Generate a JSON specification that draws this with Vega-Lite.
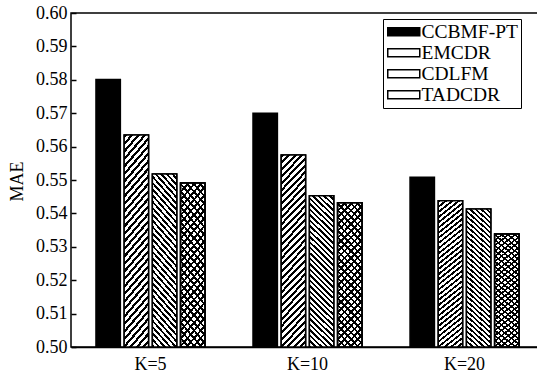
{
"$schema": "https://vega.github.io/schema/vega-lite/v6.json",
"width": 473, "height": 334,
"autosize": {"type": "none"},
"padding": {"left": 71, "top": 13, "right": 0, "bottom": 27},
"background": "#ffffff",
"config": {
 "view": {"stroke": "#000", "strokeWidth": 1.5},
 "font": "Liberation Serif",
 "axis": {"labelFont": "Liberation Serif", "titleFont": "Liberation Serif", "labelFontSize": 18, "titleFontSize": 18, "titleFontWeight": "normal", "labelColor": "#000", "titleColor": "#000", "domainColor": "#000", "tickColor": "#000", "domainWidth": 1.5, "tickWidth": 1.5, "grid": false}
},
"data": {"values": [
 {"K": "K=5", "method": "CCBMF-PT", "MAE": 0.5801},
 {"K": "K=5", "method": "EMCDR", "MAE": 0.5635},
 {"K": "K=5", "method": "CDLFM", "MAE": 0.5518},
 {"K": "K=5", "method": "TADCDR", "MAE": 0.5491},
 {"K": "K=10", "method": "CCBMF-PT", "MAE": 0.5700},
 {"K": "K=10", "method": "EMCDR", "MAE": 0.5575},
 {"K": "K=10", "method": "CDLFM", "MAE": 0.5453},
 {"K": "K=10", "method": "TADCDR", "MAE": 0.5432},
 {"K": "K=20", "method": "CCBMF-PT", "MAE": 0.5508},
 {"K": "K=20", "method": "EMCDR", "MAE": 0.5438},
 {"K": "K=20", "method": "CDLFM", "MAE": 0.5413},
 {"K": "K=20", "method": "TADCDR", "MAE": 0.5338}
]},
"encoding": {
 "x": {"field": "K", "type": "nominal", "sort": ["K=5", "K=10", "K=20"], "scale": {"paddingInner": 0.306, "paddingOuter": 0.159}, "axis": {"title": null, "labelAngle": 0, "ticks": false, "tickSize": 0, "labelPadding": 8}},
 "xOffset": {"field": "method", "type": "nominal", "sort": ["CCBMF-PT", "EMCDR", "CDLFM", "TADCDR"], "scale": {"domain": ["CCBMF-PT", "EMCDR", "CDLFM", "TADCDR"], "paddingInner": 0.135, "paddingOuter": 0}},
 "y": {"field": "MAE", "type": "quantitative", "scale": {"domain": [0.5, 0.6], "zero": false, "nice": false}, "axis": {"title": "MAE", "values": [0.5, 0.51, 0.52, 0.53, 0.54, 0.55, 0.56, 0.57, 0.58, 0.59, 0.6], "format": ".2f", "domain": false, "offset": -5, "tickSize": 5, "labelPadding": 4, "titleX": -59, "titleY": 168, "titleAngle": -90, "titleBaseline": "middle", "titleAlign": "center"}},
 "y2": {"datum": 0.5}
},
"layer": [
 {"mark": {"type": "bar", "stroke": "#000", "strokeWidth": 1.5},
  "encoding": {"color": {"field": "method", "type": "nominal", "scale": {"domain": ["CCBMF-PT", "EMCDR", "CDLFM", "TADCDR"], "range": ["#000", "#fff", "#fff", "#fff"]},
   "legend": {"orient": "none", "legendX": 312, "legendY": 6, "title": null, "symbolType": "M-2,-0.5H2V0.5H-2Z", "symbolSize": 256, "symbolOffset": 8, "symbolStrokeColor": "#000", "symbolStrokeWidth": 1.5, "labelFont": "Liberation Serif", "labelFontSize": 19.5, "labelColor": "#000", "labelOffset": 8, "padding": 3, "rowPadding": 0, "strokeColor": "#000", "fillColor": "#fff", "labelLimit": 0,
    "encoding": {
     "legend": {"update": {"strokeWidth": {"value": 1.5}}},
     "symbols": {"update": {"stroke": {"value": "#000"}, "strokeWidth": {"value": 1.5}, "fill": [
      {"test": "datum.value === 'EMCDR'", "value": {"gradient": "linear", "x1": 0, "y1": 0, "x2": 1.176, "y2": 0.294, "stops": [
       {"offset": 0, "color": "#000"}, {"offset": 0.07, "color": "#000"}, {"offset": 0.07, "color": "#fff"}, {"offset": 0.1667, "color": "#fff"},
       {"offset": 0.1667, "color": "#000"}, {"offset": 0.2367, "color": "#000"}, {"offset": 0.2367, "color": "#fff"}, {"offset": 0.3333, "color": "#fff"},
       {"offset": 0.3333, "color": "#000"}, {"offset": 0.4033, "color": "#000"}, {"offset": 0.4033, "color": "#fff"}, {"offset": 0.5, "color": "#fff"},
       {"offset": 0.5, "color": "#000"}, {"offset": 0.57, "color": "#000"}, {"offset": 0.57, "color": "#fff"}, {"offset": 0.6667, "color": "#fff"},
       {"offset": 0.6667, "color": "#000"}, {"offset": 0.7367, "color": "#000"}, {"offset": 0.7367, "color": "#fff"}, {"offset": 0.8333, "color": "#fff"},
       {"offset": 0.8333, "color": "#000"}, {"offset": 0.9033, "color": "#000"}, {"offset": 0.9033, "color": "#fff"}, {"offset": 1, "color": "#fff"}]}},
      {"test": "datum.value === 'CDLFM'", "value": {"gradient": "linear", "x1": 0, "y1": 1, "x2": 1.176, "y2": 0.706, "stops": [
       {"offset": 0, "color": "#000"}, {"offset": 0.07, "color": "#000"}, {"offset": 0.07, "color": "#fff"}, {"offset": 0.1667, "color": "#fff"},
       {"offset": 0.1667, "color": "#000"}, {"offset": 0.2367, "color": "#000"}, {"offset": 0.2367, "color": "#fff"}, {"offset": 0.3333, "color": "#fff"},
       {"offset": 0.3333, "color": "#000"}, {"offset": 0.4033, "color": "#000"}, {"offset": 0.4033, "color": "#fff"}, {"offset": 0.5, "color": "#fff"},
       {"offset": 0.5, "color": "#000"}, {"offset": 0.57, "color": "#000"}, {"offset": 0.57, "color": "#fff"}, {"offset": 0.6667, "color": "#fff"},
       {"offset": 0.6667, "color": "#000"}, {"offset": 0.7367, "color": "#000"}, {"offset": 0.7367, "color": "#fff"}, {"offset": 0.8333, "color": "#fff"},
       {"offset": 0.8333, "color": "#000"}, {"offset": 0.9033, "color": "#000"}, {"offset": 0.9033, "color": "#fff"}, {"offset": 1, "color": "#fff"}]}},
      {"test": "datum.value === 'TADCDR'", "value": {"gradient": "linear", "x1": 0, "y1": 1, "x2": 1.176, "y2": 0.706, "stops": [
       {"offset": 0, "color": "#000"}, {"offset": 0.065, "color": "#000"}, {"offset": 0.065, "color": "#fff"}, {"offset": 0.125, "color": "#fff"},
       {"offset": 0.125, "color": "#000"}, {"offset": 0.19, "color": "#000"}, {"offset": 0.19, "color": "#fff"}, {"offset": 0.25, "color": "#fff"},
       {"offset": 0.25, "color": "#000"}, {"offset": 0.315, "color": "#000"}, {"offset": 0.315, "color": "#fff"}, {"offset": 0.375, "color": "#fff"},
       {"offset": 0.375, "color": "#000"}, {"offset": 0.44, "color": "#000"}, {"offset": 0.44, "color": "#fff"}, {"offset": 0.5, "color": "#fff"},
       {"offset": 0.5, "color": "#000"}, {"offset": 0.565, "color": "#000"}, {"offset": 0.565, "color": "#fff"}, {"offset": 0.625, "color": "#fff"},
       {"offset": 0.625, "color": "#000"}, {"offset": 0.69, "color": "#000"}, {"offset": 0.69, "color": "#fff"}, {"offset": 0.75, "color": "#fff"},
       {"offset": 0.75, "color": "#000"}, {"offset": 0.815, "color": "#000"}, {"offset": 0.815, "color": "#fff"}, {"offset": 0.875, "color": "#fff"},
       {"offset": 0.875, "color": "#000"}, {"offset": 0.94, "color": "#000"}, {"offset": 0.94, "color": "#fff"}, {"offset": 1, "color": "#fff"}]}},
      {"value": "#000"}
     ]}}
    }
   }}}
 },
 {"transform": [{"filter": "datum.method === 'EMCDR'"}],
  "mark": {"type": "bar", "stroke": "#000", "strokeWidth": 1.5, "color": {"gradient": "linear", "x1": 0, "y1": 0, "x2": 0.148, "y2": 1.113, "stops": [
{"offset":0,"color":"#000"},{"offset":0.014,"color":"#000"},{"offset":0.014,"color":"#fff"},{"offset":0.03125,"color":"#fff"},
{"offset":0.03125,"color":"#000"},{"offset":0.04525,"color":"#000"},{"offset":0.04525,"color":"#fff"},{"offset":0.0625,"color":"#fff"},
{"offset":0.0625,"color":"#000"},{"offset":0.0765,"color":"#000"},{"offset":0.0765,"color":"#fff"},{"offset":0.09375,"color":"#fff"},
{"offset":0.09375,"color":"#000"},{"offset":0.10775,"color":"#000"},{"offset":0.10775,"color":"#fff"},{"offset":0.125,"color":"#fff"},
{"offset":0.125,"color":"#000"},{"offset":0.139,"color":"#000"},{"offset":0.139,"color":"#fff"},{"offset":0.15625,"color":"#fff"},
{"offset":0.15625,"color":"#000"},{"offset":0.17025,"color":"#000"},{"offset":0.17025,"color":"#fff"},{"offset":0.1875,"color":"#fff"},
{"offset":0.1875,"color":"#000"},{"offset":0.2015,"color":"#000"},{"offset":0.2015,"color":"#fff"},{"offset":0.21875,"color":"#fff"},
{"offset":0.21875,"color":"#000"},{"offset":0.23275,"color":"#000"},{"offset":0.23275,"color":"#fff"},{"offset":0.25,"color":"#fff"},
{"offset":0.25,"color":"#000"},{"offset":0.264,"color":"#000"},{"offset":0.264,"color":"#fff"},{"offset":0.28125,"color":"#fff"},
{"offset":0.28125,"color":"#000"},{"offset":0.29525,"color":"#000"},{"offset":0.29525,"color":"#fff"},{"offset":0.3125,"color":"#fff"},
{"offset":0.3125,"color":"#000"},{"offset":0.3265,"color":"#000"},{"offset":0.3265,"color":"#fff"},{"offset":0.34375,"color":"#fff"},
{"offset":0.34375,"color":"#000"},{"offset":0.35775,"color":"#000"},{"offset":0.35775,"color":"#fff"},{"offset":0.375,"color":"#fff"},
{"offset":0.375,"color":"#000"},{"offset":0.389,"color":"#000"},{"offset":0.389,"color":"#fff"},{"offset":0.40625,"color":"#fff"},
{"offset":0.40625,"color":"#000"},{"offset":0.42025,"color":"#000"},{"offset":0.42025,"color":"#fff"},{"offset":0.4375,"color":"#fff"},
{"offset":0.4375,"color":"#000"},{"offset":0.4515,"color":"#000"},{"offset":0.4515,"color":"#fff"},{"offset":0.46875,"color":"#fff"},
{"offset":0.46875,"color":"#000"},{"offset":0.48275,"color":"#000"},{"offset":0.48275,"color":"#fff"},{"offset":0.5,"color":"#fff"},
{"offset":0.5,"color":"#000"},{"offset":0.514,"color":"#000"},{"offset":0.514,"color":"#fff"},{"offset":0.53125,"color":"#fff"},
{"offset":0.53125,"color":"#000"},{"offset":0.54525,"color":"#000"},{"offset":0.54525,"color":"#fff"},{"offset":0.5625,"color":"#fff"},
{"offset":0.5625,"color":"#000"},{"offset":0.5765,"color":"#000"},{"offset":0.5765,"color":"#fff"},{"offset":0.59375,"color":"#fff"},
{"offset":0.59375,"color":"#000"},{"offset":0.60775,"color":"#000"},{"offset":0.60775,"color":"#fff"},{"offset":0.625,"color":"#fff"},
{"offset":0.625,"color":"#000"},{"offset":0.639,"color":"#000"},{"offset":0.639,"color":"#fff"},{"offset":0.65625,"color":"#fff"},
{"offset":0.65625,"color":"#000"},{"offset":0.67025,"color":"#000"},{"offset":0.67025,"color":"#fff"},{"offset":0.6875,"color":"#fff"},
{"offset":0.6875,"color":"#000"},{"offset":0.7015,"color":"#000"},{"offset":0.7015,"color":"#fff"},{"offset":0.71875,"color":"#fff"},
{"offset":0.71875,"color":"#000"},{"offset":0.73275,"color":"#000"},{"offset":0.73275,"color":"#fff"},{"offset":0.75,"color":"#fff"},
{"offset":0.75,"color":"#000"},{"offset":0.764,"color":"#000"},{"offset":0.764,"color":"#fff"},{"offset":0.78125,"color":"#fff"},
{"offset":0.78125,"color":"#000"},{"offset":0.79525,"color":"#000"},{"offset":0.79525,"color":"#fff"},{"offset":0.8125,"color":"#fff"},
{"offset":0.8125,"color":"#000"},{"offset":0.8265,"color":"#000"},{"offset":0.8265,"color":"#fff"},{"offset":0.84375,"color":"#fff"},
{"offset":0.84375,"color":"#000"},{"offset":0.85775,"color":"#000"},{"offset":0.85775,"color":"#fff"},{"offset":0.875,"color":"#fff"},
{"offset":0.875,"color":"#000"},{"offset":0.889,"color":"#000"},{"offset":0.889,"color":"#fff"},{"offset":0.90625,"color":"#fff"},
{"offset":0.90625,"color":"#000"},{"offset":0.92025,"color":"#000"},{"offset":0.92025,"color":"#fff"},{"offset":0.9375,"color":"#fff"},
{"offset":0.9375,"color":"#000"},{"offset":0.9515,"color":"#000"},{"offset":0.9515,"color":"#fff"},{"offset":0.96875,"color":"#fff"},
{"offset":0.96875,"color":"#000"},{"offset":0.98275,"color":"#000"},{"offset":0.98275,"color":"#fff"},{"offset":1,"color":"#fff"}]}}
 },
 {"transform": [{"filter": "datum.method === 'CDLFM'"}],
  "mark": {"type": "bar", "stroke": "#000", "strokeWidth": 1.5, "color": {"gradient": "linear", "x1": 0, "y1": 1, "x2": 0.179, "y2": -0.13, "stops": [
{"offset":0,"color":"#000"},{"offset":0.014,"color":"#000"},{"offset":0.014,"color":"#fff"},{"offset":0.03125,"color":"#fff"},
{"offset":0.03125,"color":"#000"},{"offset":0.04525,"color":"#000"},{"offset":0.04525,"color":"#fff"},{"offset":0.0625,"color":"#fff"},
{"offset":0.0625,"color":"#000"},{"offset":0.0765,"color":"#000"},{"offset":0.0765,"color":"#fff"},{"offset":0.09375,"color":"#fff"},
{"offset":0.09375,"color":"#000"},{"offset":0.10775,"color":"#000"},{"offset":0.10775,"color":"#fff"},{"offset":0.125,"color":"#fff"},
{"offset":0.125,"color":"#000"},{"offset":0.139,"color":"#000"},{"offset":0.139,"color":"#fff"},{"offset":0.15625,"color":"#fff"},
{"offset":0.15625,"color":"#000"},{"offset":0.17025,"color":"#000"},{"offset":0.17025,"color":"#fff"},{"offset":0.1875,"color":"#fff"},
{"offset":0.1875,"color":"#000"},{"offset":0.2015,"color":"#000"},{"offset":0.2015,"color":"#fff"},{"offset":0.21875,"color":"#fff"},
{"offset":0.21875,"color":"#000"},{"offset":0.23275,"color":"#000"},{"offset":0.23275,"color":"#fff"},{"offset":0.25,"color":"#fff"},
{"offset":0.25,"color":"#000"},{"offset":0.264,"color":"#000"},{"offset":0.264,"color":"#fff"},{"offset":0.28125,"color":"#fff"},
{"offset":0.28125,"color":"#000"},{"offset":0.29525,"color":"#000"},{"offset":0.29525,"color":"#fff"},{"offset":0.3125,"color":"#fff"},
{"offset":0.3125,"color":"#000"},{"offset":0.3265,"color":"#000"},{"offset":0.3265,"color":"#fff"},{"offset":0.34375,"color":"#fff"},
{"offset":0.34375,"color":"#000"},{"offset":0.35775,"color":"#000"},{"offset":0.35775,"color":"#fff"},{"offset":0.375,"color":"#fff"},
{"offset":0.375,"color":"#000"},{"offset":0.389,"color":"#000"},{"offset":0.389,"color":"#fff"},{"offset":0.40625,"color":"#fff"},
{"offset":0.40625,"color":"#000"},{"offset":0.42025,"color":"#000"},{"offset":0.42025,"color":"#fff"},{"offset":0.4375,"color":"#fff"},
{"offset":0.4375,"color":"#000"},{"offset":0.4515,"color":"#000"},{"offset":0.4515,"color":"#fff"},{"offset":0.46875,"color":"#fff"},
{"offset":0.46875,"color":"#000"},{"offset":0.48275,"color":"#000"},{"offset":0.48275,"color":"#fff"},{"offset":0.5,"color":"#fff"},
{"offset":0.5,"color":"#000"},{"offset":0.514,"color":"#000"},{"offset":0.514,"color":"#fff"},{"offset":0.53125,"color":"#fff"},
{"offset":0.53125,"color":"#000"},{"offset":0.54525,"color":"#000"},{"offset":0.54525,"color":"#fff"},{"offset":0.5625,"color":"#fff"},
{"offset":0.5625,"color":"#000"},{"offset":0.5765,"color":"#000"},{"offset":0.5765,"color":"#fff"},{"offset":0.59375,"color":"#fff"},
{"offset":0.59375,"color":"#000"},{"offset":0.60775,"color":"#000"},{"offset":0.60775,"color":"#fff"},{"offset":0.625,"color":"#fff"},
{"offset":0.625,"color":"#000"},{"offset":0.639,"color":"#000"},{"offset":0.639,"color":"#fff"},{"offset":0.65625,"color":"#fff"},
{"offset":0.65625,"color":"#000"},{"offset":0.67025,"color":"#000"},{"offset":0.67025,"color":"#fff"},{"offset":0.6875,"color":"#fff"},
{"offset":0.6875,"color":"#000"},{"offset":0.7015,"color":"#000"},{"offset":0.7015,"color":"#fff"},{"offset":0.71875,"color":"#fff"},
{"offset":0.71875,"color":"#000"},{"offset":0.73275,"color":"#000"},{"offset":0.73275,"color":"#fff"},{"offset":0.75,"color":"#fff"},
{"offset":0.75,"color":"#000"},{"offset":0.764,"color":"#000"},{"offset":0.764,"color":"#fff"},{"offset":0.78125,"color":"#fff"},
{"offset":0.78125,"color":"#000"},{"offset":0.79525,"color":"#000"},{"offset":0.79525,"color":"#fff"},{"offset":0.8125,"color":"#fff"},
{"offset":0.8125,"color":"#000"},{"offset":0.8265,"color":"#000"},{"offset":0.8265,"color":"#fff"},{"offset":0.84375,"color":"#fff"},
{"offset":0.84375,"color":"#000"},{"offset":0.85775,"color":"#000"},{"offset":0.85775,"color":"#fff"},{"offset":0.875,"color":"#fff"},
{"offset":0.875,"color":"#000"},{"offset":0.889,"color":"#000"},{"offset":0.889,"color":"#fff"},{"offset":0.90625,"color":"#fff"},
{"offset":0.90625,"color":"#000"},{"offset":0.92025,"color":"#000"},{"offset":0.92025,"color":"#fff"},{"offset":0.9375,"color":"#fff"},
{"offset":0.9375,"color":"#000"},{"offset":0.9515,"color":"#000"},{"offset":0.9515,"color":"#fff"},{"offset":0.96875,"color":"#fff"},
{"offset":0.96875,"color":"#000"},{"offset":0.98275,"color":"#000"},{"offset":0.98275,"color":"#fff"},{"offset":1,"color":"#fff"}]}}
 },
 {"transform": [{"filter": "datum.method === 'TADCDR'"}],
  "mark": {"type": "bar", "stroke": "#000", "strokeWidth": 1.5, "color": {"gradient": "linear", "x1": 0, "y1": 0, "x2": 0.198, "y2": 1.14, "stops": [
{"offset":0,"color":"#000"},{"offset":0.015,"color":"#000"},{"offset":0.015,"color":"#fff"},{"offset":0.04,"color":"#fff"},
{"offset":0.04,"color":"#000"},{"offset":0.055,"color":"#000"},{"offset":0.055,"color":"#fff"},{"offset":0.08,"color":"#fff"},
{"offset":0.08,"color":"#000"},{"offset":0.095,"color":"#000"},{"offset":0.095,"color":"#fff"},{"offset":0.12,"color":"#fff"},
{"offset":0.12,"color":"#000"},{"offset":0.135,"color":"#000"},{"offset":0.135,"color":"#fff"},{"offset":0.16,"color":"#fff"},
{"offset":0.16,"color":"#000"},{"offset":0.175,"color":"#000"},{"offset":0.175,"color":"#fff"},{"offset":0.2,"color":"#fff"},
{"offset":0.2,"color":"#000"},{"offset":0.215,"color":"#000"},{"offset":0.215,"color":"#fff"},{"offset":0.24,"color":"#fff"},
{"offset":0.24,"color":"#000"},{"offset":0.255,"color":"#000"},{"offset":0.255,"color":"#fff"},{"offset":0.28,"color":"#fff"},
{"offset":0.28,"color":"#000"},{"offset":0.295,"color":"#000"},{"offset":0.295,"color":"#fff"},{"offset":0.32,"color":"#fff"},
{"offset":0.32,"color":"#000"},{"offset":0.335,"color":"#000"},{"offset":0.335,"color":"#fff"},{"offset":0.36,"color":"#fff"},
{"offset":0.36,"color":"#000"},{"offset":0.375,"color":"#000"},{"offset":0.375,"color":"#fff"},{"offset":0.4,"color":"#fff"},
{"offset":0.4,"color":"#000"},{"offset":0.415,"color":"#000"},{"offset":0.415,"color":"#fff"},{"offset":0.44,"color":"#fff"},
{"offset":0.44,"color":"#000"},{"offset":0.455,"color":"#000"},{"offset":0.455,"color":"#fff"},{"offset":0.48,"color":"#fff"},
{"offset":0.48,"color":"#000"},{"offset":0.495,"color":"#000"},{"offset":0.495,"color":"#fff"},{"offset":0.52,"color":"#fff"},
{"offset":0.52,"color":"#000"},{"offset":0.535,"color":"#000"},{"offset":0.535,"color":"#fff"},{"offset":0.56,"color":"#fff"},
{"offset":0.56,"color":"#000"},{"offset":0.575,"color":"#000"},{"offset":0.575,"color":"#fff"},{"offset":0.6,"color":"#fff"},
{"offset":0.6,"color":"#000"},{"offset":0.615,"color":"#000"},{"offset":0.615,"color":"#fff"},{"offset":0.64,"color":"#fff"},
{"offset":0.64,"color":"#000"},{"offset":0.655,"color":"#000"},{"offset":0.655,"color":"#fff"},{"offset":0.68,"color":"#fff"},
{"offset":0.68,"color":"#000"},{"offset":0.695,"color":"#000"},{"offset":0.695,"color":"#fff"},{"offset":0.72,"color":"#fff"},
{"offset":0.72,"color":"#000"},{"offset":0.735,"color":"#000"},{"offset":0.735,"color":"#fff"},{"offset":0.76,"color":"#fff"},
{"offset":0.76,"color":"#000"},{"offset":0.775,"color":"#000"},{"offset":0.775,"color":"#fff"},{"offset":0.8,"color":"#fff"},
{"offset":0.8,"color":"#000"},{"offset":0.815,"color":"#000"},{"offset":0.815,"color":"#fff"},{"offset":0.84,"color":"#fff"},
{"offset":0.84,"color":"#000"},{"offset":0.855,"color":"#000"},{"offset":0.855,"color":"#fff"},{"offset":0.88,"color":"#fff"},
{"offset":0.88,"color":"#000"},{"offset":0.895,"color":"#000"},{"offset":0.895,"color":"#fff"},{"offset":0.92,"color":"#fff"},
{"offset":0.92,"color":"#000"},{"offset":0.935,"color":"#000"},{"offset":0.935,"color":"#fff"},{"offset":0.96,"color":"#fff"},
{"offset":0.96,"color":"#000"},{"offset":0.975,"color":"#000"},{"offset":0.975,"color":"#fff"},{"offset":1,"color":"#fff"}]}}
 },
 {"transform": [{"filter": "datum.method === 'TADCDR'"}],
  "mark": {"type": "bar", "stroke": "#000", "strokeWidth": 1.5, "color": {"gradient": "linear", "x1": 0, "y1": 1, "x2": 0.198, "y2": -0.14, "stops": [
{"offset":0,"color":"#000"},{"offset":0.015,"color":"#000"},{"offset":0.015,"color":"rgba(255,255,255,0)"},{"offset":0.04,"color":"rgba(255,255,255,0)"},
{"offset":0.04,"color":"#000"},{"offset":0.055,"color":"#000"},{"offset":0.055,"color":"rgba(255,255,255,0)"},{"offset":0.08,"color":"rgba(255,255,255,0)"},
{"offset":0.08,"color":"#000"},{"offset":0.095,"color":"#000"},{"offset":0.095,"color":"rgba(255,255,255,0)"},{"offset":0.12,"color":"rgba(255,255,255,0)"},
{"offset":0.12,"color":"#000"},{"offset":0.135,"color":"#000"},{"offset":0.135,"color":"rgba(255,255,255,0)"},{"offset":0.16,"color":"rgba(255,255,255,0)"},
{"offset":0.16,"color":"#000"},{"offset":0.175,"color":"#000"},{"offset":0.175,"color":"rgba(255,255,255,0)"},{"offset":0.2,"color":"rgba(255,255,255,0)"},
{"offset":0.2,"color":"#000"},{"offset":0.215,"color":"#000"},{"offset":0.215,"color":"rgba(255,255,255,0)"},{"offset":0.24,"color":"rgba(255,255,255,0)"},
{"offset":0.24,"color":"#000"},{"offset":0.255,"color":"#000"},{"offset":0.255,"color":"rgba(255,255,255,0)"},{"offset":0.28,"color":"rgba(255,255,255,0)"},
{"offset":0.28,"color":"#000"},{"offset":0.295,"color":"#000"},{"offset":0.295,"color":"rgba(255,255,255,0)"},{"offset":0.32,"color":"rgba(255,255,255,0)"},
{"offset":0.32,"color":"#000"},{"offset":0.335,"color":"#000"},{"offset":0.335,"color":"rgba(255,255,255,0)"},{"offset":0.36,"color":"rgba(255,255,255,0)"},
{"offset":0.36,"color":"#000"},{"offset":0.375,"color":"#000"},{"offset":0.375,"color":"rgba(255,255,255,0)"},{"offset":0.4,"color":"rgba(255,255,255,0)"},
{"offset":0.4,"color":"#000"},{"offset":0.415,"color":"#000"},{"offset":0.415,"color":"rgba(255,255,255,0)"},{"offset":0.44,"color":"rgba(255,255,255,0)"},
{"offset":0.44,"color":"#000"},{"offset":0.455,"color":"#000"},{"offset":0.455,"color":"rgba(255,255,255,0)"},{"offset":0.48,"color":"rgba(255,255,255,0)"},
{"offset":0.48,"color":"#000"},{"offset":0.495,"color":"#000"},{"offset":0.495,"color":"rgba(255,255,255,0)"},{"offset":0.52,"color":"rgba(255,255,255,0)"},
{"offset":0.52,"color":"#000"},{"offset":0.535,"color":"#000"},{"offset":0.535,"color":"rgba(255,255,255,0)"},{"offset":0.56,"color":"rgba(255,255,255,0)"},
{"offset":0.56,"color":"#000"},{"offset":0.575,"color":"#000"},{"offset":0.575,"color":"rgba(255,255,255,0)"},{"offset":0.6,"color":"rgba(255,255,255,0)"},
{"offset":0.6,"color":"#000"},{"offset":0.615,"color":"#000"},{"offset":0.615,"color":"rgba(255,255,255,0)"},{"offset":0.64,"color":"rgba(255,255,255,0)"},
{"offset":0.64,"color":"#000"},{"offset":0.655,"color":"#000"},{"offset":0.655,"color":"rgba(255,255,255,0)"},{"offset":0.68,"color":"rgba(255,255,255,0)"},
{"offset":0.68,"color":"#000"},{"offset":0.695,"color":"#000"},{"offset":0.695,"color":"rgba(255,255,255,0)"},{"offset":0.72,"color":"rgba(255,255,255,0)"},
{"offset":0.72,"color":"#000"},{"offset":0.735,"color":"#000"},{"offset":0.735,"color":"rgba(255,255,255,0)"},{"offset":0.76,"color":"rgba(255,255,255,0)"},
{"offset":0.76,"color":"#000"},{"offset":0.775,"color":"#000"},{"offset":0.775,"color":"rgba(255,255,255,0)"},{"offset":0.8,"color":"rgba(255,255,255,0)"},
{"offset":0.8,"color":"#000"},{"offset":0.815,"color":"#000"},{"offset":0.815,"color":"rgba(255,255,255,0)"},{"offset":0.84,"color":"rgba(255,255,255,0)"},
{"offset":0.84,"color":"#000"},{"offset":0.855,"color":"#000"},{"offset":0.855,"color":"rgba(255,255,255,0)"},{"offset":0.88,"color":"rgba(255,255,255,0)"},
{"offset":0.88,"color":"#000"},{"offset":0.895,"color":"#000"},{"offset":0.895,"color":"rgba(255,255,255,0)"},{"offset":0.92,"color":"rgba(255,255,255,0)"},
{"offset":0.92,"color":"#000"},{"offset":0.935,"color":"#000"},{"offset":0.935,"color":"rgba(255,255,255,0)"},{"offset":0.96,"color":"rgba(255,255,255,0)"},
{"offset":0.96,"color":"#000"},{"offset":0.975,"color":"#000"},{"offset":0.975,"color":"rgba(255,255,255,0)"},{"offset":1,"color":"rgba(255,255,255,0)"}]}}
 }
]
}
